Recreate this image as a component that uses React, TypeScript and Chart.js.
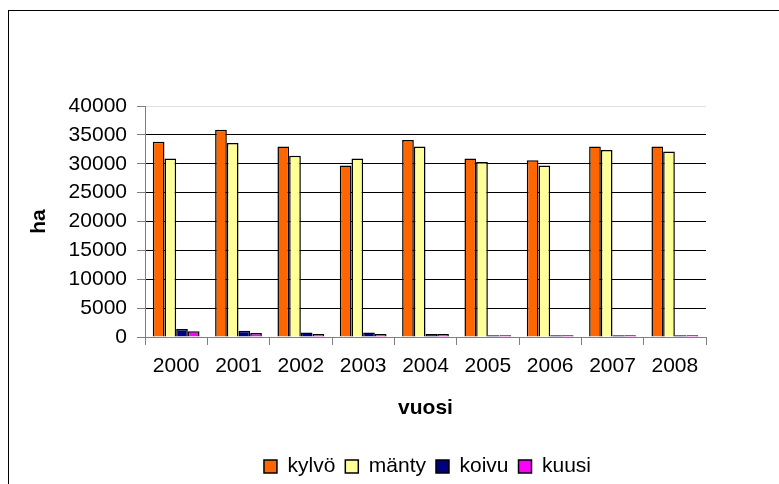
import React, { useEffect, useRef } from "react";
import { Chart, registerables } from "chart.js";

Chart.register(...registerables);

const categories = ["2000", "2001", "2002", "2003", "2004", "2005", "2006", "2007", "2008"];
const kylvo = [33800, 35900, 33000, 29700, 34100, 30900, 30600, 33000, 33000];
const manty = [30900, 33600, 31400, 30900, 33000, 30300, 29700, 32400, 32100];
const koivu = [1400, 1100, 800, 800, 500, 300, 300, 300, 300];
const kuusi = [1000, 700, 500, 500, 500, 300, 300, 300, 300];
const seriesNames = ["kylvö", "mänty", "koivu", "kuusi"];
const seriesColors = ["#FF6600", "#FFFF99", "#000080", "#FF00FF"];
const yMax = 40000;
const yStep = 5000;

const FONT = "'Liberation Sans', Arial, sans-serif";
const FS = 21;

const legendShift = {
  id: "legendShift",
  afterLayout(chart: any) {
    const lg = chart.legend;
    if (!lg) return;
    const w = lg.right - lg.left;
    const center = (chart.chartArea.left + chart.chartArea.right) / 2 + 2;
    lg.left = center - w / 2;
    lg.right = center + w / 2;
    lg.top += 3;
    lg.bottom += 3;
  },
};

export default function App() {
  const ref = useRef<HTMLCanvasElement | null>(null);

  useEffect(() => {
    if (!ref.current) return;
    const values = [kylvo, manty, koivu, kuusi];
    const chart = new Chart(ref.current, {
      type: "bar",
      plugins: [legendShift],
      data: {
        labels: categories,
        datasets: values.map((v, i) => ({
          label: seriesNames[i],
          data: v,
          backgroundColor: seriesColors[i],
          borderColor: "#000000",
          borderWidth: 1.5,
          categoryPercentage: 0.75,
          barPercentage: 1,
        })),
      },
      options: {
        responsive: false,
        animation: false,
        devicePixelRatio: 1,
        layout: { padding: { left: 22, right: 73, top: 106, bottom: 0 } },
        plugins: {
          tooltip: { enabled: false },
          legend: {
            position: "bottom",
            labels: {
              color: "#000",
              font: { family: FONT, size: FS },
              boxWidth: 13,
              boxHeight: 13,
              padding: 10,
            },
          },
        },
        scales: {
          x: {
            afterFit: (s: any) => {
              s.height = 106;
            },
            grid: {
              drawOnChartArea: false,
              drawTicks: true,
              tickLength: 8,
              color: "#808080",
              offset: true,
            },
            border: { color: "#808080", width: 1 },
            ticks: {
              color: "#000",
              font: { family: FONT, size: FS },
              padding: 9,
              maxRotation: 0,
            },
            title: {
              display: true,
              text: "vuosi",
              color: "#000",
              font: { family: FONT, size: FS, weight: "bold" },
              padding: { top: 0, bottom: 22 },
            },
          },
          y: {
            min: 0,
            max: yMax,
            afterFit: (s: any) => {
              s.width = 123;
            },
            grid: {
              color: (ctx: any) => (ctx.tick && ctx.tick.value === yMax ? "#e0e0e0" : "#000000"),
              tickColor: "#808080",
              tickLength: 8,
              lineWidth: 1,
            },
            border: { color: "#808080", width: 1 },
            ticks: {
              stepSize: yStep,
              color: "#000",
              font: { family: FONT, size: FS },
              padding: 10,
              callback: (v: any) => String(v),
            },
            title: {
              display: true,
              text: "ha",
              color: "#000",
              font: { family: FONT, size: FS, weight: "bold" },
              padding: { top: 5, bottom: 0 },
            },
          },
        },
      },
    });
    return () => chart.destroy();
  }, []);

  return (
    <div
      style={{
        position: "fixed",
        left: 0,
        top: 0,
        width: 779,
        height: 484,
        overflow: "hidden",
        background: "#fff",
      }}
    >
      <div
        style={{
          position: "absolute",
          left: 8,
          top: 10,
          width: 820,
          height: 520,
          border: "1px solid #000",
          boxSizing: "border-box",
        }}
      />
      <canvas ref={ref} width={779} height={484} style={{ position: "absolute", left: 0, top: 0 }} />
    </div>
  );
}
